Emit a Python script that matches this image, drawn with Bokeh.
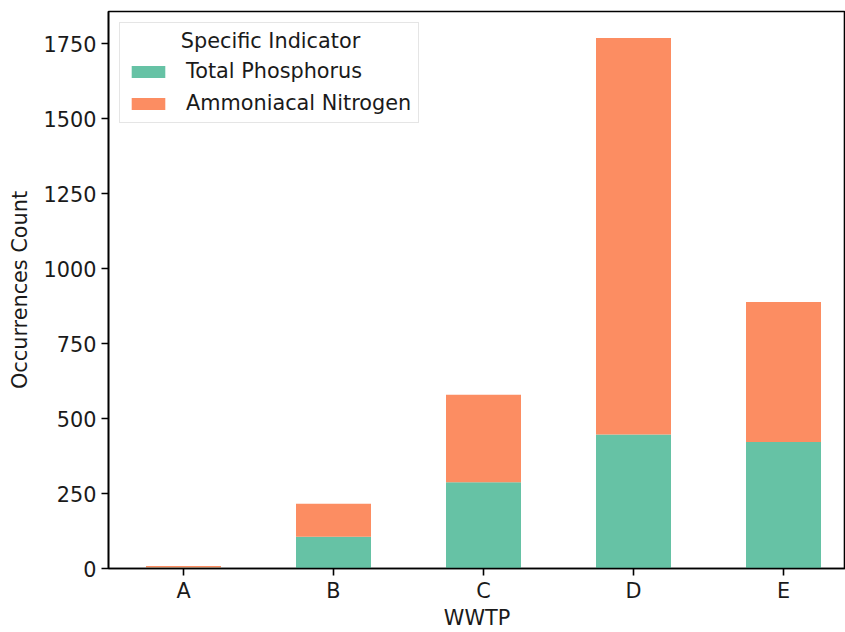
from bokeh.plotting import figure
from bokeh.models import ColumnDataSource, Range1d, FixedTicker, Legend, LegendItem, Label
from bokeh.embed import file_html
from bokeh.resources import INLINE

# Data
categories = ["A", "B", "C", "D", "E"]
total_phosphorus = [3, 106, 288, 447, 422]
ammoniacal_nitrogen = [5, 110, 291, 1322, 467]
series_names = ["Total Phosphorus", "Ammoniacal Nitrogen"]
legend_title = "Specific Indicator"
colors = ["#66c2a5", "#fc8d62"]
y_ticks = [0, 250, 500, 750, 1000, 1250, 1500, 1750]

xpos = list(range(len(categories)))
src = ColumnDataSource(dict(x=xpos, tp=total_phosphorus, an=ammoniacal_nitrogen))

ymax = max(a + b for a, b in zip(total_phosphorus, ammoniacal_nitrogen)) * 1.05

p = figure(width=845, height=632, output_backend="svg", toolbar_location=None,
           x_range=Range1d(-0.5, 4.4133), y_range=Range1d(0, ymax),
           min_border_left=108, min_border_right=0, min_border_top=11, min_border_bottom=64)

r = p.vbar_stack(["tp", "an"], x="x", width=0.5, source=src, color=colors, line_width=0)

FONT = "DejaVu Sans"
FS = "20.8px"
TXT = "#1a1a1a"
p.xgrid.visible = False
p.ygrid.visible = False
p.outline_line_color = "black"
p.outline_line_width = 1.6
p.background_fill_color = "white"
p.border_fill_color = "white"

for ax in (p.xaxis[0], p.yaxis[0]):
    ax.axis_line_color = "black"
    ax.axis_line_width = 1.6
    ax.major_tick_line_color = "black"
    ax.major_tick_line_width = 1.6
    ax.major_tick_out = 7
    ax.major_tick_in = 0
    ax.minor_tick_line_color = None
    ax.major_label_text_font = FONT
    ax.major_label_text_font_size = FS
    ax.major_label_text_color = TXT
    ax.axis_label_text_font = FONT
    ax.axis_label_text_font_size = FS
    ax.axis_label_text_font_style = "normal"
    ax.axis_label_text_color = TXT

p.xaxis.ticker = FixedTicker(ticks=xpos)
p.xaxis.major_label_overrides = {i: c for i, c in zip(xpos, categories)}
p.xaxis.axis_label = "WWTP"
p.xaxis.major_label_standoff = 3
p.xaxis.axis_label_standoff = 0

p.yaxis.ticker = FixedTicker(ticks=y_ticks)
p.yaxis.axis_label = "Occurrences Count"
p.yaxis.major_label_standoff = 5
p.yaxis.axis_label_standoff = 9

legend = Legend(items=[LegendItem(label=series_names[0], renderers=[r[0]]),
                       LegendItem(label=series_names[1], renderers=[r[1]])],
                location="top_left", margin=11,
                title=" ", title_text_font_size=FS, title_standoff=5,
                label_text_font=FONT, label_text_font_size=FS, label_text_color=TXT,
                glyph_width=42, glyph_height=15, label_standoff=17,
                label_height=21, spacing=8, padding=7,
                border_line_color="#cccccc", border_line_width=1.5,
                background_fill_color="white", background_fill_alpha=0.0)
p.add_layout(legend)

title_label = Label(x=(270 - 108) / 150 - 0.5, y=(568 - 40) / 0.3, text=legend_title,
                    text_align="center", text_baseline="middle", level="overlay",
                    text_font=FONT, text_font_size=FS, text_color=TXT)
p.add_layout(title_label)

open("out.html", "w").write(file_html(p, INLINE))
